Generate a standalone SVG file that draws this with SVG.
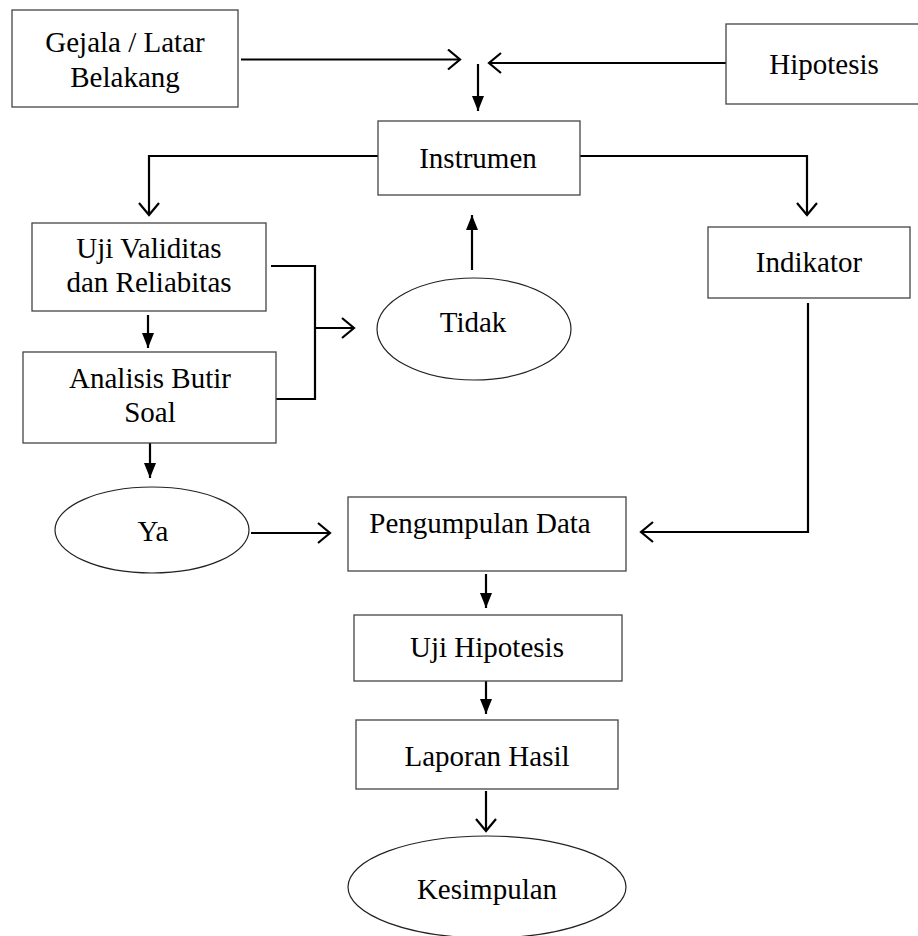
<svg xmlns="http://www.w3.org/2000/svg" width="918" height="936" viewBox="0 0 918 936">
<style>
.box{fill:#fff;stroke:#444;stroke-width:1.3}
.ell{fill:#fff;stroke:#222;stroke-width:1.2}
.t{font-size:29px;fill:#000;text-anchor:middle}
.c{fill:none;stroke:#000;stroke-width:2.2}
</style>
<defs>
<marker id="open" markerUnits="userSpaceOnUse" markerWidth="16" markerHeight="22" refX="13" refY="11" orient="auto" viewBox="0 0 16 22">
<path d="M1,1 L13,11 L1,21" fill="none" stroke="#000" stroke-width="2.2"/>
</marker>
<marker id="fill" markerUnits="userSpaceOnUse" markerWidth="16" markerHeight="12" refX="15" refY="6" orient="auto" viewBox="0 0 16 12">
<path d="M0,0 L15,6 L0,12 z" fill="#000"/>
</marker>
</defs>
<rect width="918" height="936" fill="#fff"/>
<g id="connectors">
<line class="c" x1="241" y1="59.5" x2="460" y2="59.5" marker-end="url(#open)"/>
<line class="c" x1="726" y1="63" x2="489" y2="63" marker-end="url(#open)"/>
<line class="c" x1="478" y1="64" x2="478" y2="111" marker-end="url(#fill)"/>
<polyline class="c" points="378,156 149,156 149,215" marker-end="url(#open)"/>
<polyline class="c" points="580,156 807,156 807,215" marker-end="url(#open)"/>
<line class="c" x1="472" y1="270" x2="472" y2="215" marker-end="url(#fill)"/>
<polyline class="c" points="271,266 315,266 315,399 276,399"/>
<line class="c" x1="315" y1="328" x2="354" y2="328" marker-end="url(#open)"/>
<line class="c" x1="148" y1="315" x2="148" y2="348" marker-end="url(#fill)"/>
<line class="c" x1="150" y1="443" x2="150" y2="478" marker-end="url(#fill)"/>
<line class="c" x1="251" y1="533" x2="330" y2="533" marker-end="url(#open)"/>
<polyline class="c" points="808,303 808,532 641,532" marker-end="url(#open)"/>
<line class="c" x1="486" y1="574" x2="486" y2="608" marker-end="url(#fill)"/>
<line class="c" x1="486" y1="681" x2="486" y2="714" marker-end="url(#fill)"/>
<line class="c" x1="486" y1="791" x2="486" y2="831" marker-end="url(#open)"/>
</g>
<g font-family="Liberation Serif, Times New Roman, serif">
<g id="gejala"><rect class="box" x="12" y="10" width="226" height="97"/><text class="t" x="125" y="52">Gejala / Latar</text><text class="t" x="125" y="87">Belakang</text></g>
<g id="hipotesis"><rect class="box" x="726" y="24" width="200" height="80"/><text class="t" x="824" y="74">Hipotesis</text></g>
<g id="instrumen"><rect class="box" x="378" y="121" width="202" height="74"/><text class="t" x="478" y="168">Instrumen</text></g>
<g id="uji-validitas"><rect class="box" x="32" y="223" width="234" height="88"/><text class="t" x="149" y="258">Uji Validitas</text><text class="t" x="149" y="292">dan Reliabitas</text></g>
<g id="indikator"><rect class="box" x="708" y="227" width="202" height="71"/><text class="t" x="809" y="272">Indikator</text></g>
<g id="tidak"><ellipse class="ell" cx="474" cy="329" rx="97" ry="51"/><text class="t" x="473" y="332">Tidak</text></g>
<g id="analisis"><rect class="box" x="23" y="352" width="253" height="91"/><text class="t" x="150" y="388">Analisis Butir</text><text class="t" x="150" y="422">Soal</text></g>
<g id="ya"><ellipse class="ell" cx="152" cy="530" rx="97" ry="43"/><text class="t" x="153" y="541">Ya</text></g>
<g id="pengumpulan"><rect class="box" x="348" y="497" width="278" height="74"/><text class="t" x="480" y="533">Pengumpulan Data</text></g>
<g id="uji-hipotesis"><rect class="box" x="354" y="615" width="268" height="66"/><text class="t" x="487" y="657">Uji Hipotesis</text></g>
<g id="laporan"><rect class="box" x="356" y="720" width="262" height="69"/><text class="t" x="487" y="766">Laporan Hasil</text></g>
<g id="kesimpulan"><ellipse class="ell" cx="487" cy="887" rx="139" ry="51"/><text class="t" x="487" y="899">Kesimpulan</text></g>
</g>
</svg>
